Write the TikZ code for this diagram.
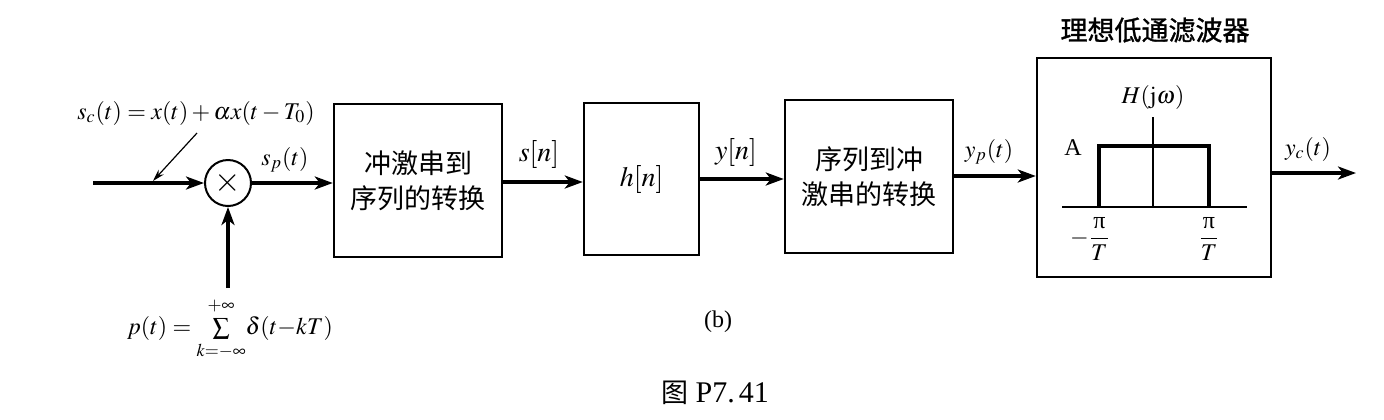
\documentclass[tikz,border=0pt]{standalone}
\usepackage{mathptmx}
\usepackage{fontspec}
\setmainfont{Liberation Serif}
\newfontfamily\cjk{Noto Sans CJK SC}
\newfontfamily\cjkheavy[FakeBold=1.2]{Noto Sans CJK SC}
\usetikzlibrary{arrows.meta}
\tikzset{x=0.5pt, y=-0.5pt,
    sig/.style={line width=2pt, -{Stealth[length=9pt,width=6.5pt,inset=2.5pt]}},
    thinarrow/.style={line width=0.6pt, -{Stealth[length=6pt,width=3.5pt]}},
    sysbox/.style={draw, line width=1.2pt, align=center, inner sep=0pt,
        font=\cjk\fontsize{13.5}{17.5}\selectfont},
    siglabel/.style={inner sep=0pt, font=\fontsize{12}{14}\selectfont},
    seqlabel/.style={inner sep=0pt, font=\fontsize{14}{16}\selectfont},
    }

\begin{document}
\begin{tikzpicture}
\useasboundingbox (0,0) rectangle (1384,419);
% multiplier and its inputs
\coordinate (in) at (93,183);
\node[draw, circle, line width=1pt, minimum size=23pt, inner sep=0pt,
    font=\fontsize{17}{17}\selectfont] (mult) at (228,183) {$\times$};
\coordinate (sctip) at (153,181);
\coordinate (scfoot) at (197,133);
\coordinate (pin) at (228,288);
\node[siglabel] (sc) at (196,113) {$s_c(t) = x(t) + \alpha x(t - T_0)$};
\node[siglabel] (ptrain) at (230,329) {$p(t) = \sum\limits_{\raisebox{-1.5pt}{$\scriptstyle k=-\infty$}}^{\raisebox{1.5pt}{$\scriptstyle+\infty$}}\!\delta(t{-}kT)$};
% blocks
\node[sysbox, minimum width=84pt, minimum height=76.5pt] (imp2seq) at (418,180.5) {冲激串到\\序列的转换};
\node[sysbox, minimum width=57.5pt, minimum height=76pt,
    font=\fontsize{14}{16}\selectfont] (hn) at (641.5,179) {$h[n]$};
\node[sysbox, minimum width=84pt, minimum height=76.5pt] (seq2imp) at (869,176.5) {序列到冲\\激串的转换};
\node[sysbox, minimum width=117pt, minimum height=109.5pt] (lpf) at (1154,167.5) {};
\node[inner sep=0pt, font=\cjkheavy\fontsize{13.5}{16}\selectfont] (lpftitle) at (1155,30) {理想低通滤波器};
\coordinate (out) at (1356,173);
% connectors
\draw[sig] (in) -- (mult);
\draw[thinarrow] (scfoot) -- (sctip);
\draw[sig] (pin) -- (mult);
\draw[sig] (mult) -- (mult -| imp2seq.west);
\draw[sig] (imp2seq.east |- 0,182) -- (hn.west |- 0,182);
\draw[sig] (hn.east |- 0,179) -- (seq2imp.west |- 0,179);
\draw[sig] (seq2imp.east |- 0,176) -- (lpf.west |- 0,176);
\draw[sig] (lpf.east |- out) -- (out);
% signal names
\node[siglabel] (sp) at (285,160) {$s_p(t)$};
\node[seqlabel] (sn) at (539,154) {$s[n]$};
\node[seqlabel] (yn) at (736,152) {$y[n]$};
\node[siglabel] (yp) at (989,152) {$y_p(t)$};
\node[siglabel] (yc) at (1308,149) {$y_c(t)$};
% frequency response inside the filter
\draw[line width=0.7pt] (1062,207) -- (1247,207);
\draw[line width=0.7pt] (1153,117) -- (1153,207);
\draw[line width=2pt] (1099,207) -- (1099,146) -- (1209,146) -- (1209,207);
\node[siglabel] (amp) at (1073,148) {A};
\node[siglabel] (hjw) at (1153,97) {$H(\mathrm{j}\omega)$};
\node[siglabel] (wneg) at (1090,239) {$-{\displaystyle\frac{\mbox{π}}{T}}$};
\node[siglabel] (wpos) at (1209,239) {$\displaystyle\frac{\mbox{π}}{T}$};
% captions
\node[siglabel] (sub) at (718,322) {(b)};
\node[inner sep=0pt, font=\fontsize{15}{18}\selectfont] (fig) at (715,393) {{\cjk\fontsize{13.5}{16}\selectfont 图} P7.\kern2pt 41};
\end{tikzpicture}
\end{document}
